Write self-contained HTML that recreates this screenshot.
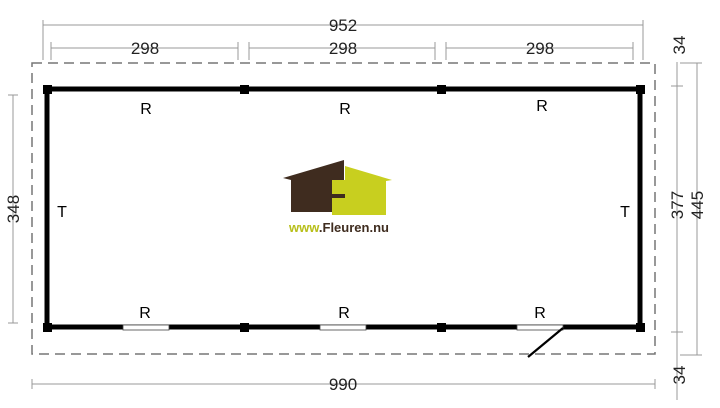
<!DOCTYPE html>
<html><head><style>body{margin:0;background:#fff}svg{display:block}text{font-family:"Liberation Sans",sans-serif}</style></head><body>
<svg width="720" height="408" viewBox="0 0 720 408" xmlns="http://www.w3.org/2000/svg">
<g stroke="#999" stroke-width="1" fill="none">
<line x1="43" y1="25" x2="643" y2="25"/><line x1="43" y1="20" x2="43" y2="60"/><line x1="643" y1="20" x2="643" y2="60"/>
<line x1="51" y1="48" x2="238" y2="48"/><line x1="51" y1="42" x2="51" y2="60"/><line x1="238" y1="42" x2="238" y2="60"/>
<line x1="249" y1="48" x2="435" y2="48"/><line x1="249" y1="42" x2="249" y2="60"/><line x1="435" y1="42" x2="435" y2="60"/>
<line x1="446" y1="48" x2="633" y2="48"/><line x1="446" y1="42" x2="446" y2="60"/><line x1="633" y1="42" x2="633" y2="60"/>
<line x1="32" y1="384" x2="655" y2="384"/><line x1="32" y1="379" x2="32" y2="389"/><line x1="655" y1="379" x2="655" y2="389"/>
<line x1="13" y1="95" x2="13" y2="323"/><line x1="8" y1="95" x2="18" y2="95"/><line x1="8" y1="323" x2="18" y2="323"/>
<line x1="677" y1="62" x2="677" y2="400"/><line x1="671" y1="86" x2="683" y2="86"/><line x1="671" y1="332" x2="683" y2="332"/>
<line x1="697" y1="63" x2="697" y2="355"/><line x1="680" y1="63" x2="702" y2="63"/><line x1="680" y1="355" x2="702" y2="355"/>
</g>
<rect x="32" y="63" width="623" height="291" fill="none" stroke="#777" stroke-width="1.5" stroke-dasharray="10,6"/>
<rect x="47" y="89" width="593" height="238" fill="none" stroke="#000" stroke-width="5"/>
<g fill="#000">
<rect x="43" y="85" width="9" height="9"/><rect x="240" y="85" width="9" height="9"/><rect x="437" y="85" width="9" height="9"/><rect x="636" y="85" width="9" height="9"/>
<rect x="43" y="323" width="9" height="9"/><rect x="240" y="323" width="9" height="9"/><rect x="437" y="323" width="9" height="9"/><rect x="636" y="323" width="9" height="9"/>
</g>
<g fill="#fff" stroke="#444" stroke-width="0.8">
<rect x="123" y="325" width="46" height="5"/><rect x="320" y="325" width="46" height="5"/><rect x="517" y="325" width="46" height="5"/>
</g>
<line x1="563" y1="328" x2="528" y2="357" stroke="#000" stroke-width="2.2"/>
<g font-size="16" fill="#000" text-anchor="middle">
<text x="146" y="114">R</text><text x="345" y="114">R</text><text x="542" y="111">R</text>
<text x="145" y="318">R</text><text x="344" y="318">R</text><text x="540" y="318">R</text>
<text x="62" y="217">T</text><text x="625" y="217">T</text>
</g>
<g font-size="17" fill="#222" text-anchor="middle">
<text x="343" y="31">952</text>
<text x="145" y="54">298</text><text x="343" y="54">298</text><text x="540" y="54">298</text>
<text x="343" y="390">990</text>
<text transform="translate(19,209) rotate(-90)">348</text>
<text transform="translate(683,205) rotate(-90)">377</text>
<text transform="translate(703,205) rotate(-90)">445</text>
<text transform="translate(685,45) rotate(-90)">34</text>
<text transform="translate(685,375) rotate(-90)">34</text>
</g>
<polygon points="345,166 392,180 386,181 386,215 332,215 332,198 345,198 345,194 332,194 332,180 345,180" fill="#c8cf1f"/>
<polygon points="283,178 344,160 344,180 332,180 332,194 345,194 345,198 332,198 332,212 291,212 291,180" fill="#3f2c1f"/>
<text x="339" y="232" font-size="13" font-weight="bold" text-anchor="middle" fill="#3f2c1f"><tspan fill="#b8bf1a">www</tspan>.Fleuren.nu</text>
</svg>
</body></html>
